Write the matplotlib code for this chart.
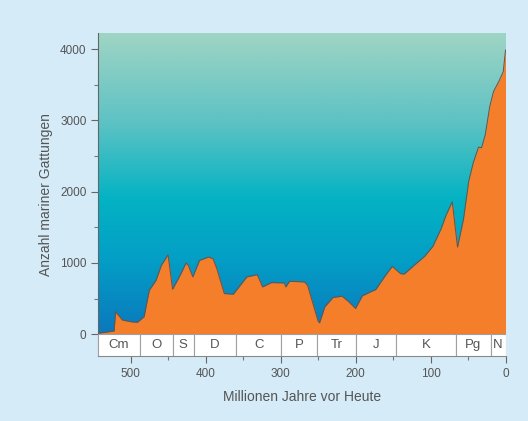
import numpy as np
import matplotlib.pyplot as plt
from matplotlib.colors import LinearSegmentedColormap
from matplotlib.patches import Rectangle

# Millionen Jahre vor Heute / Anzahl mariner Gattungen
age = [543, 522, 520, 511, 500, 491, 482, 475, 466, 459, 450, 444, 435, 426, 423,
       417, 408, 396, 390, 385, 375, 363, 345, 331, 324, 312, 295, 293, 288, 268,
       264, 250, 248, 241, 230, 218, 209, 200, 191, 180, 173, 160, 151, 140, 135,
       122, 108, 97, 86, 79, 71, 64, 56, 49, 43, 36, 32, 27, 21, 16, 9, 3, 0]
genera = [14, 46, 316, 200, 176, 167, 246, 618, 757, 966, 1115, 632, 804, 999, 966,
          804, 1036, 1083, 1059, 920, 571, 562, 804, 836, 664, 725, 720, 664, 743, 734,
          688, 186, 160, 386, 516, 534, 455, 362, 539, 595, 627, 827, 952, 850, 845,
          966, 1092, 1231, 1477, 1677, 1858, 1222, 1617, 2151, 2407, 2625, 2616, 2801, 3196, 3405, 3545, 3684, 3986]

periods = ["Cm", "O", "S", "D", "C", "P", "Tr", "J", "K", "Pg", "N"]
bounds = [543, 488, 444, 416, 359, 299, 251, 200, 146, 65.5, 20, 0]

x_left, x_right = 543, 0
y_top, band_h = 4230, 305

plt.rcParams['font.family'] = ['Liberation Sans', 'DejaVu Sans']
fig = plt.figure(figsize=(5.28, 4.21), dpi=100)
fig.patch.set_facecolor('#d5ebf7')
ax = fig.add_axes([0.1862, 0.1544, 0.7712, 0.7679])
ax.set_facecolor('#d5ebf7')

cmap = LinearSegmentedColormap.from_list(
    'sea', [(0, '#0b78bd'), (0.25, '#039fc6'), (0.45, '#04b3c3'),
            (0.7, '#5dc2c4'), (1, '#a0d5c4')])
grad = np.linspace(0, 1, 256).reshape(-1, 1)
ax.imshow(grad, cmap=cmap, origin='lower', aspect='auto',
          extent=[x_left, x_right, 0, y_top], zorder=0)

ax.fill_between(age, genera, 0, color='#f47e2a', zorder=2, lw=0)
ax.plot(age, genera, color='#6b5145', lw=0.7, zorder=3)

for i, name in enumerate(periods):
    a, b = bounds[i], bounds[i + 1]
    ax.add_patch(Rectangle((b, -band_h), a - b, band_h, facecolor='white',
                           edgecolor='#a0a0a0', lw=0.8, zorder=4))
    ax.text((a + b) / 2, -band_h / 2, name, ha='center', va='center',
            fontsize=9.5, color='#555555', zorder=5)

ax.set_xlim(x_left, x_right)
ax.set_ylim(-band_h, y_top)
ax.set_xticks([500, 400, 300, 200, 100, 0])
ax.set_xticks([450, 350, 250, 150, 50], minor=True)
ax.set_yticks([0, 1000, 2000, 3000, 4000])
ax.set_yticks([500, 1500, 2500, 3500], minor=True)

for s in ['top', 'right']:
    ax.spines[s].set_visible(False)
ax.spines['left'].set_color('#666666')
ax.spines['bottom'].set_color('#888888')
ax.tick_params(axis='both', which='major', colors='#666666', labelcolor='#555555',
               labelsize=8.5, length=5, width=0.8)
ax.tick_params(axis='both', which='minor', colors='#777777', length=3, width=0.8)

ax.set_xlabel('Millionen Jahre vor Heute', fontsize=10, color='#555555', labelpad=7)
ax.set_ylabel('Anzahl mariner Gattungen', fontsize=10, color='#555555', labelpad=5)

fig.savefig('out.png', dpi=100, facecolor=fig.get_facecolor())
